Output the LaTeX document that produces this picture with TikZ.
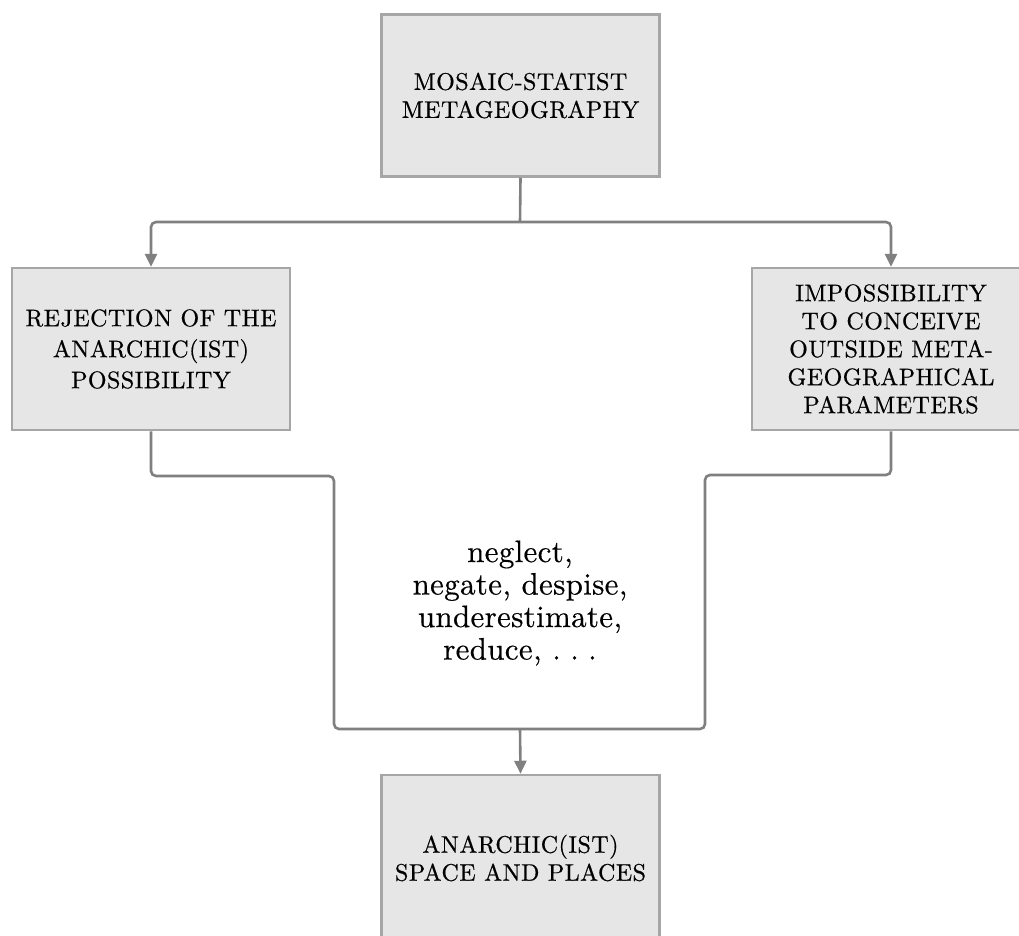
\documentclass[tikz,border=0pt]{standalone}
\usepackage{fontspec}
\usetikzlibrary{arrows.meta}
\definecolor{boxfill}{HTML}{E6E6E6}
\definecolor{boxline}{HTML}{A6A6A6}
\definecolor{conn}{HTML}{808080}
\newfontfamily\boxfam[LetterSpace=2,FakeBold=0.6]{lmroman10-regular.otf}
\newfontfamily\verbfam[LetterSpace=1,FakeBold=0.4]{lmroman10-regular.otf}
\newcommand{\boxfont}[1]{\boxfam\fontsize{24}{#1}\selectfont}
\begin{document}
\begin{tikzpicture}[x=1pt,y=-1pt,
  box/.style={draw=boxline,fill=boxfill,line width=2.5pt,minimum width=278pt,minimum height=162pt,
    align=center,inner sep=0pt,font=\boxfont{28}},
  conn/.style={draw=conn,line width=2.6pt,rounded corners=5pt},
  arr/.style={conn,-{Triangle[length=13pt,width=12pt]}}]
\useasboundingbox (0,0) rectangle (1019,936);
\node[box] (top) at (520.5,95.5) {MOSAIC-STATIST\\METAGEOGRAPHY};
\node[box,font=\boxfont{31}] (left) at (151,349) {REJECTION OF THE\\ANARCHIC(IST)\\POSSIBILITY};
\node[box] (right) at (891,349) {IMPOSSIBILITY\\TO CONCEIVE\\OUTSIDE META-\\GEOGRAPHICAL\\PARAMETERS};
\node[box,minimum height=166pt] (bot) at (520.5,858) {ANARCHIC(IST)\\SPACE AND PLACES};
\node[align=center,inner sep=0pt,font=\verbfam\fontsize{31}{32.5}\selectfont] (verbs) at (520,603)
  {neglect,\\negate, despise,\\underestimate,\\reduce, .\hspace{0.3em}.\hspace{0.3em}.};
\coordinate (split) at (520,222);
\coordinate (join) at (520,729);
\draw[conn] (top.south) -- (split);
\draw[arr] (split) -| (left.north);
\draw[arr] (split) -| (right.north);
\draw[conn] (left.south) -- (151,476) -- (334,476) -- (334,729) -- (join);
\draw[conn] (right.south) -- (891,475) -- (705,475) -- (705,729) -- (join);
\draw[arr] (join) -- (bot.north);
\end{tikzpicture}
\end{document}
